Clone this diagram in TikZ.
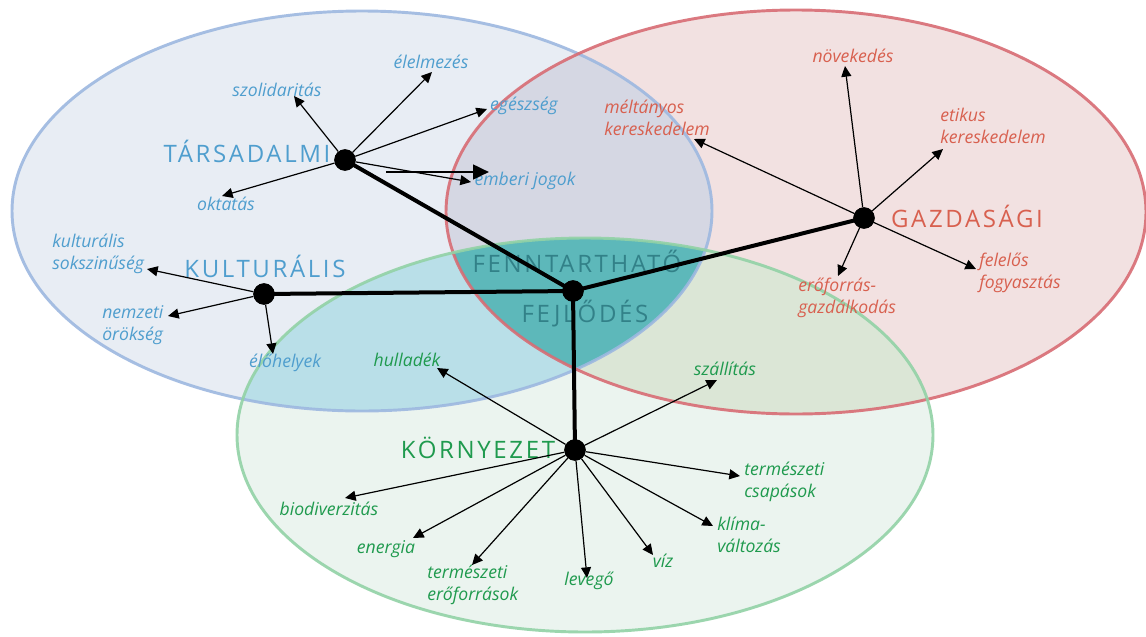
\documentclass[tikz,border=0pt]{standalone}
\usepackage{fontspec}
\setmainfont{Open Sans}
\newfontfamily\headfont[LetterSpace=11]{Open Sans}
\usetikzlibrary{arrows.meta}
\definecolor{bluefill}{HTML}{E8EDF4}
\definecolor{redfill}{HTML}{F2E1E1}
\definecolor{greenfill}{HTML}{EBF4EF}
\definecolor{bgfill}{HTML}{B9DFE8}
\definecolor{brfill}{HTML}{D5D7E3}
\definecolor{rgfill}{HTML}{DBE6D6}
\definecolor{tealfill}{HTML}{5DB8BA}
\definecolor{blueline}{HTML}{9DB8E0}
\definecolor{redline}{HTML}{D86C74}
\definecolor{greenline}{HTML}{92D2A6}
\definecolor{bluetext}{HTML}{4F9ECE}
\definecolor{redtext}{HTML}{D8604F}
\definecolor{greentext}{HTML}{1F9A4E}
\definecolor{centertext}{HTML}{2B7880}
\tikzset{
  hub/.style={circle, fill=black, minimum size=16pt, inner sep=0pt},
  link/.style={line width=3pt},
  arr/.style={line width=0.9pt, -{Triangle[length=8pt,width=7.5pt]}},
  bigarr/.style={line width=2pt, -{Triangle[length=12pt,width=11pt]}},
  lbl/.style={font=\itshape\fontsize{13.2}{16.5}\selectfont, inner sep=0pt, align=left},
  head/.style={font=\headfont\fontsize{18}{20}\selectfont, inner sep=0pt},
  border/.style={line width=2.2pt, opacity=0.9}
}
\begin{document}
\begin{tikzpicture}[x=0.75pt,y=-0.75pt]
\fill[white] (0,0) rectangle (1146,636);
\useasboundingbox (0,0) rectangle (1146,636);
% base fills
\fill[bluefill] (362,211) ellipse [x radius=262.5pt, y radius=150pt];
\fill[redfill] (796,212) ellipse [x radius=262.5pt, y radius=151.5pt];
\fill[greenfill] (585,435) ellipse [x radius=261pt, y radius=147.75pt];
% overlaps
\begin{scope}
  \clip (362,211) ellipse [x radius=262.5pt, y radius=150pt];
  \fill[brfill] (796,212) ellipse [x radius=262.5pt, y radius=151.5pt];
  \fill[bgfill] (585,435) ellipse [x radius=261pt, y radius=147.75pt];
\end{scope}
\begin{scope}
  \clip (796,212) ellipse [x radius=262.5pt, y radius=151.5pt];
  \fill[rgfill] (585,435) ellipse [x radius=261pt, y radius=147.75pt];
\end{scope}
\begin{scope}
  \clip (362,211) ellipse [x radius=262.5pt, y radius=150pt];
  \clip (796,212) ellipse [x radius=262.5pt, y radius=151.5pt];
  \fill[tealfill] (585,435) ellipse [x radius=261pt, y radius=147.75pt];
\end{scope}
% borders
\draw[border, blueline] (362,211) ellipse [x radius=262.5pt, y radius=150pt];
\draw[border, redline] (796,212) ellipse [x radius=262.5pt, y radius=151.5pt];
\draw[border, greenline] (585,435) ellipse [x radius=261pt, y radius=147.75pt];

% headings
\node[head, text=bluetext, anchor=base] (tTars) at (247,162) {TÁRSADALMI};
\node[head, text=bluetext, anchor=base] (tKult) at (265,277) {KULTURÁLIS};
\node[head, text=redtext, anchor=base] (tGazd) at (967,227) {GAZDASÁGI};
\node[head, text=greentext, anchor=base] (tKorny) at (478,458) {KÖRNYEZET};
\node[head, text=centertext, anchor=base, opacity=0.85] (tFenn) at (577,272) {FENNTARTHATŐ};
\node[head, text=centertext, anchor=base, opacity=0.85] (tFejl) at (585,322) {FEJLŐDÉS};

% labels (blue)
\node[lbl, text=bluetext, anchor=base] (lSzol) at (277,96) {szolidaritás};
\node[lbl, text=bluetext, anchor=base] (lElel) at (431,68) {élelmezés};
\node[lbl, text=bluetext, anchor=base] (lEgesz) at (524,110) {egészség};
\node[lbl, text=bluetext, anchor=base] (lEmb) at (525,185) {emberi jogok};
\node[lbl, text=bluetext, anchor=base] (lOkt) at (226,210) {oktatás};
\node[lbl, text=bluetext, anchor=base west] (lKsok) at (52,269) {kulturális\\sokszinűség};
\node[lbl, text=bluetext, anchor=base west] (lNemz) at (102,340) {nemzeti\\örökség};
\node[lbl, text=bluetext, anchor=base] (lElo) at (285,367) {élőhelyek};
% labels (red)
\node[lbl, text=redtext, anchor=base west] (lMelt) at (604,135) {méltányos\\kereskedelem};
\node[lbl, text=redtext, anchor=base] (lNov) at (853,62) {növekedés};
\node[lbl, text=redtext, anchor=base west] (lEtik) at (940,143) {etikus\\kereskedelem};
\node[lbl, text=redtext, anchor=base west] (lErof) at (798,313) {erőforrás-\\gazdálkodás};
\node[lbl, text=redtext, anchor=base west] (lFel) at (979,288) {felelős\\fogyasztás};
% labels (green)
\node[lbl, text=greentext, anchor=base] (lHull) at (407,366) {hulladék};
\node[lbl, text=greentext, anchor=base] (lSzall) at (725,375) {szállítás};
\node[lbl, text=greentext, anchor=base west] (lCsap) at (744,497) {természeti\\csapások};
\node[lbl, text=greentext, anchor=base west] (lKlima) at (717,552) {klíma-\\változás};
\node[lbl, text=greentext, anchor=base] (lViz) at (663,567) {víz};
\node[lbl, text=greentext, anchor=base] (lLev) at (589,585) {levegő};
\node[lbl, text=greentext, anchor=base west] (lTerm) at (427,600) {természeti\\erőforrások};
\node[lbl, text=greentext, anchor=base] (lEner) at (386,553) {energia};
\node[lbl, text=greentext, anchor=base] (lBio) at (329,515) {biodiverzitás};

% hubs
\node[hub] (c) at (573,291) {};
\node[hub] (t) at (345,160) {};
\node[hub] (g) at (864,218) {};
\node[hub] (k) at (264,294) {};
\node[hub] (e) at (575,450) {};

% arrow tips
\coordinate (pSzol) at (294,96);
\coordinate (pElel) at (432,72);
\coordinate (pEgesz) at (487,109);
\coordinate (pEmb) at (471,182);
\coordinate (pOkt) at (222,196);
\coordinate (bigS) at (386,172);
\coordinate (bigE) at (489,172);
\coordinate (pMelt) at (694,139);
\coordinate (pNov) at (845,66);
\coordinate (pEtik) at (943,149);
\coordinate (pFel) at (976,269);
\coordinate (pErof) at (838,276);
\coordinate (pKsok) at (147,269);
\coordinate (pNemz) at (168,316);
\coordinate (pElo) at (273,354);
\coordinate (pHull) at (437,368);
\coordinate (pSzall) at (717,380);
\coordinate (pCsap) at (740,476);
\coordinate (pKlima) at (713,526);
\coordinate (pViz) at (653,555);
\coordinate (pLev) at (587,578);
\coordinate (pTerm) at (472,565);
\coordinate (pEner) at (413,538);
\coordinate (pBio) at (345,498);

% thick links
\draw[link] (c.center) -- (t.center);
\draw[link] (c.center) -- (g.center);
\draw[link] (c.center) -- (k.center);
\draw[link] (c.center) -- (e.center);

% arrows
\foreach \p in {pSzol,pElel,pEgesz,pEmb,pOkt} \draw[arr] (t) -- (\p);
\foreach \p in {pMelt,pNov,pEtik,pFel,pErof} \draw[arr] (g) -- (\p);
\foreach \p in {pKsok,pNemz,pElo} \draw[arr] (k) -- (\p);
\foreach \p in {pHull,pSzall,pCsap,pKlima,pViz,pLev,pTerm,pEner,pBio} \draw[arr] (e) -- (\p);
\draw[bigarr] (bigS) -- (bigE);

% hubs on top
\foreach \h in {c,t,g,k,e} \fill (\h) circle [radius=8pt];
\end{tikzpicture}
\end{document}
